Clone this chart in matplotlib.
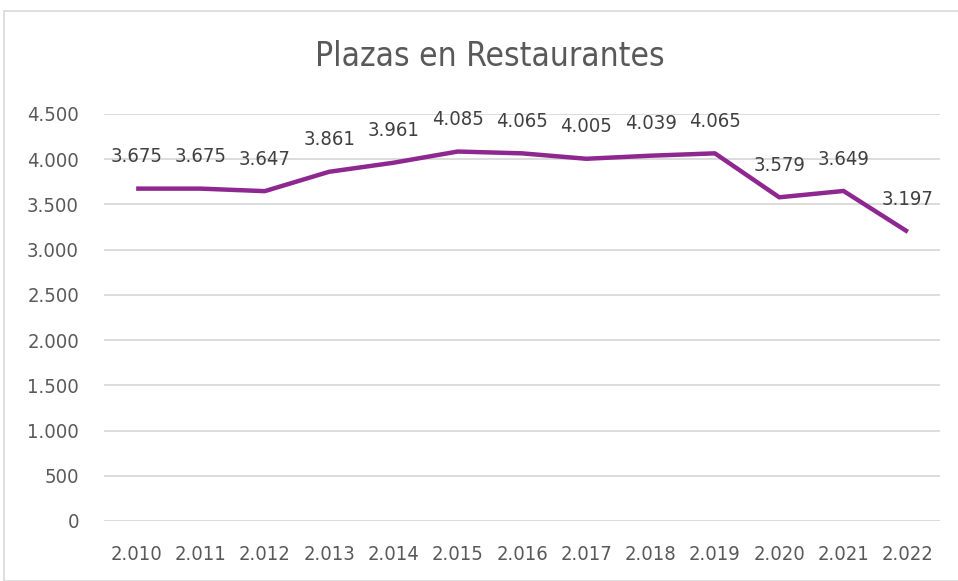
import matplotlib.pyplot as plt
from matplotlib.patches import Rectangle
from matplotlib import font_manager

# data
years = ['2.010', '2.011', '2.012', '2.013', '2.014', '2.015', '2.016',
         '2.017', '2.018', '2.019', '2.020', '2.021', '2.022']
plazas = [3675, 3675, 3647, 3861, 3961, 4085, 4065, 4005, 4039, 4065, 3579, 3649, 3197]
yticks = [0, 500, 1000, 1500, 2000, 2500, 3000, 3500, 4000, 4500]

names = {f.name for f in font_manager.fontManager.ttflist}
fams = [n for n in ['Liberation Sans Narrow', 'DejaVu Sans Condensed', 'DejaVu Sans'] if n in names]
plt.rcParams['font.family'] = fams
plt.rcParams['font.stretch'] = 'condensed'
txt_col = '#595959'

fig = plt.figure(figsize=(9.58, 5.81), dpi=100)
ax = fig.add_axes([104/958, 1 - 521/581, (940 - 104)/958, (521 - 114)/581])

# outer chart border
fig.patches.append(Rectangle((4/958, 0), 1, 1 - 11/581, transform=fig.transFigure,
                             fill=False, edgecolor='#d9d9d9', lw=1.2))

x = list(range(len(years)))
ax.plot(x, plazas, color='#8e278f', lw=3.2, solid_capstyle='butt', zorder=3)

def fmt(v):
    return f'{v:,}'.replace(',', '.')

for xi, v in zip(x, plazas):
    ax.annotate(fmt(v), (xi, v), xytext=(0, 23), textcoords='offset points',
                ha='center', va='center', fontsize=14.5, color='#404040')

ax.set_xlim(-0.5, len(years) - 0.5)
ax.set_ylim(0, 4500)
ax.set_yticks(yticks)
ax.set_yticklabels([fmt(t) for t in yticks])
ax.set_xticks(x)
ax.set_xticklabels(years)
ax.tick_params(length=0, labelsize=14.5, labelcolor=txt_col)
ax.tick_params(axis='y', pad=18)
ax.tick_params(axis='x', pad=17)
ax.grid(axis='y', color='#d9d9d9', lw=1.3)
ax.set_axisbelow(True)
for s in ax.spines.values():
    s.set_visible(False)

fig.text(490/958, 1 - 57/581, 'Plazas en Restaurantes', ha='center', va='center',
         fontsize=24, color=txt_col)

fig.savefig('out.png', dpi=100)
